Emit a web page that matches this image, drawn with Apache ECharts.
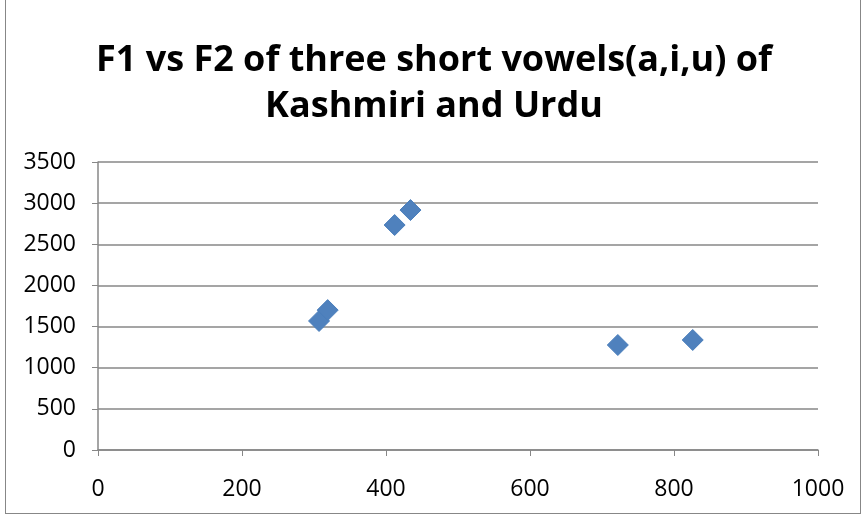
<!DOCTYPE html>
<html>
<head>
<meta charset="utf-8">
<script src="https://cdn.jsdelivr.net/npm/echarts@6/dist/echarts.min.js"></script>
<style>
    html, body {margin: 0; padding: 0; background: #fff;}
    #frame {position: absolute; left: 5px; top: -2px; width: 856px; height: 516px; border: 1px solid #878787; box-sizing: border-box;}
    #chart {position: absolute; left: 0; top: 0; width: 868px; height: 516px;}
</style>
</head>
<body>
<div id="frame"></div>
<div id="chart"></div>
<script>
// F1 / F2 values
var f1Values = [307, 319, 412, 434, 722, 826];
var f2Values = [1568, 1700, 2734, 2916, 1276, 1337];
var titleText = 'F1 vs F2 of three short vowels(a,i,u) of\nKashmiri and Urdu';

var points = [];
for (var i = 0; i < f1Values.length; i++) {
    points.push([f1Values[i], f2Values[i]]);
}

var chart = echarts.init(document.getElementById('chart'));
var labelFont = {
    color: '#000',
    fontSize: 23,
    fontFamily: 'Open Sans',
    formatter: function (v) { return String(v); }
};

chart.setOption({
    animation: false,
    title: {
        text: titleText,
        left: 'center',
        top: 33,
        textStyle: {
            fontFamily: 'Open Sans',
            fontWeight: 'bold',
            fontSize: 36,
            lineHeight: 46,
            color: '#000'
        }
    },
    grid: {
        left: 98,
        right: 50,
        top: 162,
        bottom: 66
    },
    xAxis: {
        type: 'value',
        min: 0,
        max: 1000,
        interval: 200,
        axisLine: {show: true, lineStyle: {color: '#878787', width: 1.5}},
        axisTick: {show: true, length: 6, lineStyle: {color: '#878787'}},
        splitLine: {show: false},
        axisLabel: Object.assign({margin: 28}, labelFont)
    },
    yAxis: {
        type: 'value',
        min: 0,
        max: 3500,
        interval: 500,
        axisLine: {show: true, lineStyle: {color: '#878787', width: 1.5}},
        axisTick: {show: true, length: 6, lineStyle: {color: '#878787'}},
        splitLine: {show: true, lineStyle: {color: '#878787', width: 1.5}},
        axisLabel: Object.assign({margin: 22}, labelFont)
    },
    series: [
        {
            type: 'scatter',
            data: points,
            symbol: 'diamond',
            symbolSize: 21,
            itemStyle: {color: '#4F81BD', opacity: 1, borderColor: '#4A7EBB', borderWidth: 1}
        }
    ]
});
</script>
</body>
</html>
